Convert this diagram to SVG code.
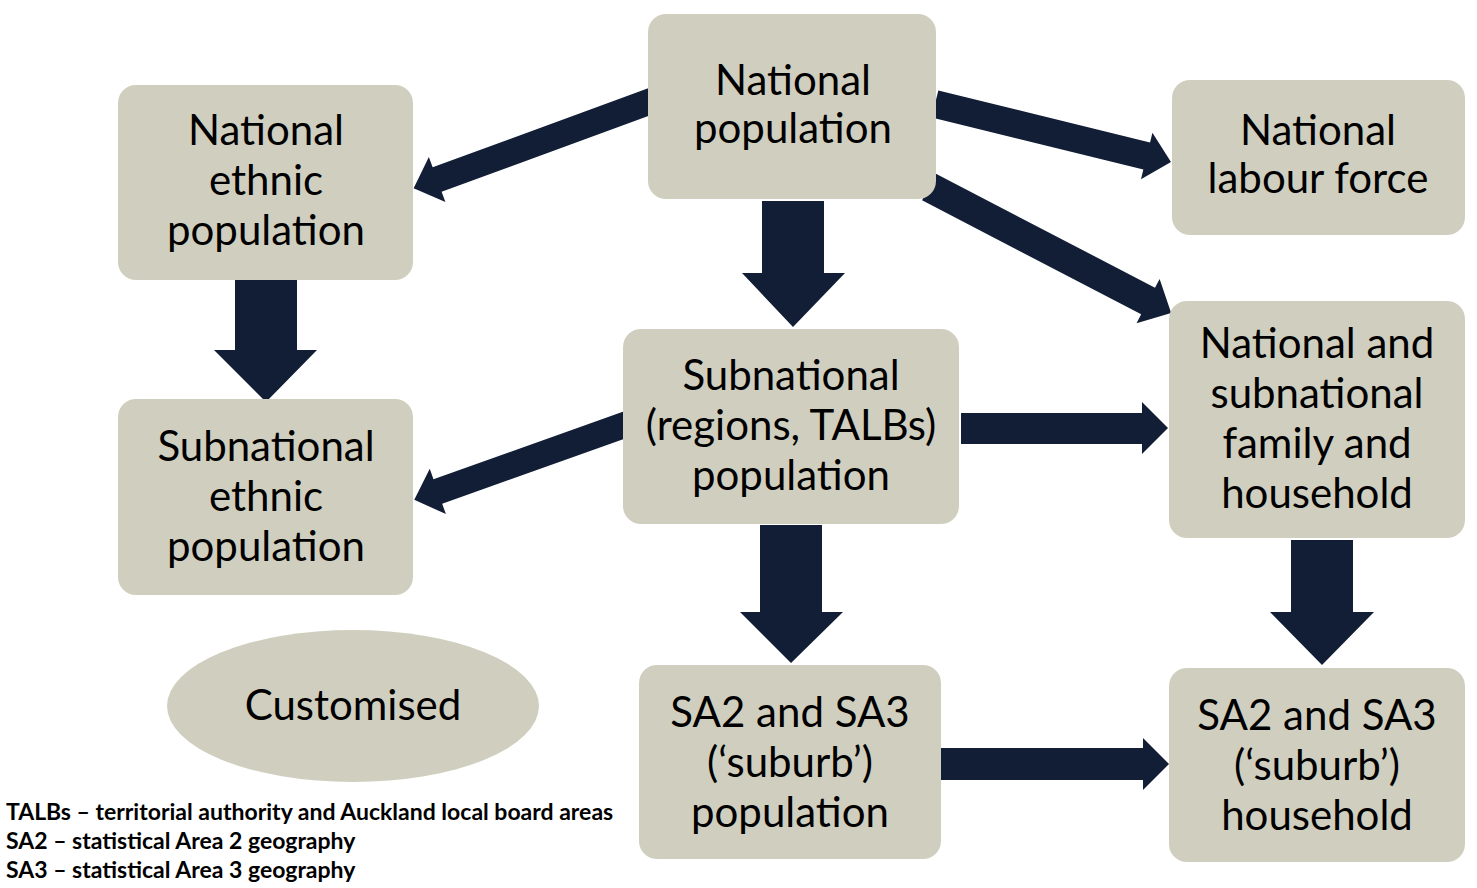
<svg xmlns="http://www.w3.org/2000/svg" width="1477" height="888" viewBox="0 0 1477 888">
<style>
.box{fill:#d0cfbf;}
.arr{fill:#111e35;}
.t{font-family:Lato,"Open Sans",sans-serif;font-size:42px;fill:#000;text-anchor:middle;}
.leg{font-family:Lato,"Open Sans",sans-serif;font-size:23px;font-weight:bold;fill:#000;}
</style>
<rect width="1477" height="888" fill="#fff"/>
<g id="connectors">
<polygon class="arr" transform="translate(654,100) rotate(159.86)" points="0,-13 231,-13 231,-24 256,0 231,24 231,13 0,13"/>
<polygon class="arr" transform="translate(935,104) rotate(13.8)" points="0,-14 218,-14 218,-24 243,0 218,24 218,14 0,14"/>
<polygon class="arr" transform="translate(929,187) rotate(27.5)" points="0,-15 247,-15 247,-25 273,0 247,25 247,15 0,15"/>
<polygon class="arr" transform="translate(630,423) rotate(160.4)" points="0,-13 204,-13 204,-24 229,0 204,24 204,13 0,13"/>
<polygon class="arr" points="762,201 824,201 824,273 845,273 793,327 742,273 762,273"/>
<polygon class="arr" points="235,277 297,277 297,350 317,350 266,402 214,350 235,350"/>
<polygon class="arr" points="760,525 822,525 822,612 843,612 791,663 740,612 760,612"/>
<polygon class="arr" points="1291,540 1353,540 1353,612 1374,612 1322,665 1270,612 1291,612"/>
<polygon class="arr" points="961,413 1142,413 1142,402 1168,428 1142,454 1142,444 961,444"/>
<polygon class="arr" points="941,748 1143,748 1143,738 1169,764 1143,790 1143,780 941,780"/>
</g>
<g id="national-population">
<rect class="box" x="648" y="14" width="288" height="185" rx="18"/>
<text class="t" x="793" y="95">National</text>
<text class="t" x="793" y="143">population</text>
</g>
<g id="national-ethnic-population">
<rect class="box" x="118" y="85" width="295" height="195" rx="18"/>
<text class="t" x="266" y="145">National</text>
<text class="t" x="266" y="195">ethnic</text>
<text class="t" x="266" y="245">population</text>
</g>
<g id="national-labour-force">
<rect class="box" x="1172" y="80" width="293" height="155" rx="18"/>
<text class="t" x="1318" y="145">National</text>
<text class="t" x="1318" y="193">labour force</text>
</g>
<g id="subnational-population">
<rect class="box" x="623" y="329" width="336" height="195" rx="18"/>
<text class="t" x="791" y="390">Subnational</text>
<text class="t" x="791" y="440">(regions, TALBs)</text>
<text class="t" x="791" y="490">population</text>
</g>
<g id="subnational-ethnic-population">
<rect class="box" x="118" y="399" width="295" height="196" rx="18"/>
<text class="t" x="266" y="461">Subnational</text>
<text class="t" x="266" y="511">ethnic</text>
<text class="t" x="266" y="561">population</text>
</g>
<g id="family-household">
<rect class="box" x="1169" y="301" width="296" height="237" rx="18"/>
<text class="t" x="1317" y="358">National and</text>
<text class="t" x="1317" y="408">subnational</text>
<text class="t" x="1317" y="458">family and</text>
<text class="t" x="1317" y="508">household</text>
</g>
<g id="customised">
<ellipse class="box" cx="353" cy="706" rx="186" ry="76"/>
<text class="t" x="353" y="720">Customised</text>
</g>
<g id="sa2-sa3-population">
<rect class="box" x="639" y="665" width="302" height="194" rx="18"/>
<text class="t" x="790" y="727">SA2 and SA3</text>
<text class="t" x="790" y="777">(‘suburb’)</text>
<text class="t" x="790" y="827">population</text>
</g>
<g id="sa2-sa3-household">
<rect class="box" x="1169" y="668" width="296" height="194" rx="18"/>
<text class="t" x="1317" y="730">SA2 and SA3</text>
<text class="t" x="1317" y="780">(‘suburb’)</text>
<text class="t" x="1317" y="830">household</text>
</g>
<g id="legend">
<text class="leg" x="6" y="820">TALBs – territorial authority and Auckland local board areas</text>
<text class="leg" x="6" y="849">SA2 – statistical Area 2 geography</text>
<text class="leg" x="6" y="878">SA3 – statistical Area 3 geography</text>
</g>
</svg>
